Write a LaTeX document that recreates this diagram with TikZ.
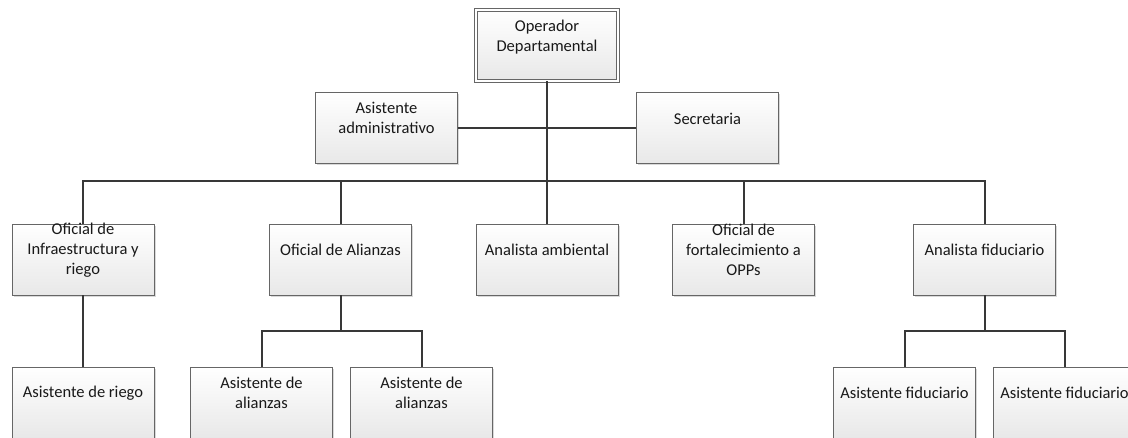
\documentclass[tikz,border=0pt]{standalone}
\usepackage{fontspec}
\setmainfont{Carlito}
\usetikzlibrary{shadows}
\begin{document}
\begin{tikzpicture}[x=1pt,y=-1pt,
  box/.style={draw=black!60, line width=0.8pt, rectangle, inner sep=0pt,
    minimum width=142pt, minimum height=71pt,
    top color=white, bottom color=black!9,
    drop shadow={shadow xshift=1.6pt, shadow yshift=-1.6pt, fill=black, opacity=0.15}},
  topbox/.style={box, double=white, double distance=1.8pt, line width=0.7pt},
  lbl/.style={align=center, inner sep=0pt, text=black!90,
    font=\fontsize{16.5}{20}\selectfont},
  link/.style={draw=black!78, line width=2pt}]
\clip (0,0) rectangle (1128,437);
\fill[white] (0,0) rectangle (1128,437);

% boxes
\node[topbox] (op)  at (547,45.5)   {};
\node[box]    (aa)  at (386.5,128)  {};
\node[box]    (sec) at (707.5,128)  {};

\node[box] (oi) at (83,259.5)    {};
\node[box] (oa) at (340.5,259.5) {};
\node[box] (am) at (547,259.5)   {};
\node[box] (of) at (743.5,259.5) {};
\node[box] (af) at (984.5,259.5) {};

\node[box] (ar)  at (83,402.5)    {};
\node[box] (al1) at (261.5,402.5) {};
\node[box] (al2) at (421.5,402.5) {};
\node[box] (fi1) at (904.5,402.5) {};
\node[box] (fi2) at (1064.5,402.5) {};

% labels
\node[lbl] at ([yshift=8.5pt]op.center)  {Operador\\Departamental};
\node[lbl] at ([yshift=10pt]aa.center)   {Asistente\\administrativo};
\node[lbl] at ([yshift=9.5pt]sec.center) {Secretaria};
\node[lbl] at ([yshift=9.5pt]oi.center)  {Oficial de\\Infraestructura y\\riego};
\node[lbl] at ([yshift=9.5pt]oa.center)  {Oficial de Alianzas};
\node[lbl] at ([yshift=9.5pt]am.center)  {Analista ambiental};
\node[lbl] at ([yshift=9.5pt]of.center)  {Oficial de\\fortalecimiento a\\OPPs};
\node[lbl] at ([yshift=9.5pt]af.center)  {Analista fiduciario};
\node[lbl] at ([yshift=9.5pt]ar.center)  {Asistente de riego};
\node[lbl] at ([yshift=9.5pt]al1.center) {Asistente de\\alianzas};
\node[lbl] at ([yshift=9.5pt]al2.center) {Asistente de\\alianzas};
\node[lbl] at ([yshift=9.5pt]fi1.center) {Asistente fiduciario};
\node[lbl] at ([yshift=9.5pt]fi2.center) {Asistente fiduciario};

% junction points
\coordinate (bus) at (547,181);
\coordinate (ab)  at (340.5,331);
\coordinate (fb)  at (984.5,331);

% connectors
\path[link] (aa.east) -- (sec.west);
\path[link] (op.south) -- (am.north);
\path[link] (oi.north) |- (bus) -| (af.north);
\path[link] (oa.north) -- (oa.north |- bus);
\path[link] (of.north) -- (of.north |- bus);
\path[link] (oi.south) -- (ar.north);
\path[link] (oa.south) -- (ab);
\path[link] (al1.north) |- (ab) -| (al2.north);
\path[link] (af.south) -- (fb);
\path[link] (fi1.north) |- (fb) -| (fi2.north);
\end{tikzpicture}
\end{document}
